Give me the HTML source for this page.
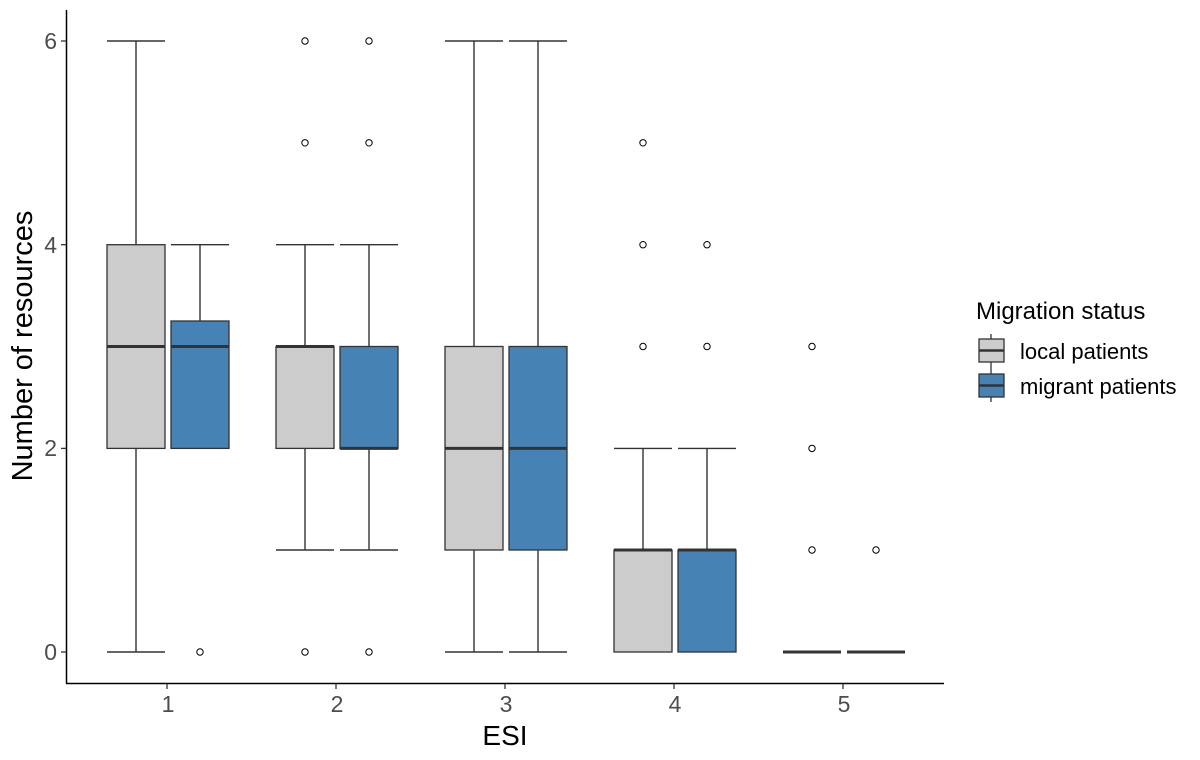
<!DOCTYPE html>
<html><head><meta charset="utf-8"><style>body{margin:0;background:#fff}svg{display:block}</style></head>
<body>
<svg width="1200" height="760" xmlns="http://www.w3.org/2000/svg" font-family="Liberation Sans, Arial, sans-serif">
<rect width="1200" height="760" fill="#fff"/>
<g stroke="#000" stroke-width="1.5" fill="none">
<line x1="66.5" y1="10" x2="66.5" y2="683.5"/>
<line x1="66" y1="683.5" x2="944" y2="683.5"/>
</g>
<g stroke="#333" stroke-width="1.3">
<line x1="61" y1="652" x2="66" y2="652"/><line x1="61" y1="448.4" x2="66" y2="448.4"/>
<line x1="61" y1="244.7" x2="66" y2="244.7"/><line x1="61" y1="41" x2="66" y2="41"/>
<line x1="167" y1="684" x2="167" y2="689"/><line x1="336" y1="684" x2="336" y2="689"/>
<line x1="505" y1="684" x2="505" y2="689"/><line x1="674" y1="684" x2="674" y2="689"/>
<line x1="843" y1="684" x2="843" y2="689"/>
</g>
<g fill="#4d4d4d" font-size="23" text-anchor="end">
<text x="57" y="660">0</text><text x="57" y="456">2</text><text x="57" y="253">4</text><text x="57" y="49">6</text>
</g>
<g fill="#4d4d4d" font-size="23" text-anchor="middle">
<text x="168" y="712">1</text><text x="337" y="712">2</text><text x="506" y="712">3</text><text x="675" y="712">4</text><text x="844" y="712">5</text>
</g>
<text x="505" y="745" font-size="28" text-anchor="middle" fill="#000">ESI</text>
<text transform="translate(32,346) rotate(-90)" font-size="29" text-anchor="middle" fill="#000">Number of resources</text>
<g stroke="#333" stroke-width="1.4">
<line x1="136" y1="41" x2="136" y2="652"/><line x1="107" y1="41" x2="165" y2="41"/><line x1="107" y1="652" x2="165" y2="652"/>
<line x1="200" y1="244.7" x2="200" y2="448.4"/><line x1="171" y1="244.7" x2="229" y2="244.7"/>
<line x1="305" y1="244.7" x2="305" y2="550"/><line x1="276" y1="244.7" x2="334" y2="244.7"/><line x1="276" y1="550" x2="334" y2="550"/>
<line x1="369" y1="244.7" x2="369" y2="550"/><line x1="340" y1="244.7" x2="398" y2="244.7"/><line x1="340" y1="550" x2="398" y2="550"/>
<line x1="474" y1="41" x2="474" y2="652"/><line x1="445" y1="41" x2="503" y2="41"/><line x1="445" y1="652" x2="503" y2="652"/>
<line x1="538" y1="41" x2="538" y2="652"/><line x1="509" y1="41" x2="567" y2="41"/><line x1="509" y1="652" x2="567" y2="652"/>
<line x1="643" y1="448.4" x2="643" y2="550"/><line x1="614" y1="448.4" x2="672" y2="448.4"/>
<line x1="707" y1="448.4" x2="707" y2="550"/><line x1="678" y1="448.4" x2="736" y2="448.4"/>
</g>
<g stroke="#333" stroke-width="1.3">
<rect x="107" y="244.7" width="58" height="203.7" fill="#cccccc"/>
<rect x="171" y="321" width="58" height="127.4" fill="#4682b4"/>
<rect x="276" y="346.5" width="58" height="101.9" fill="#cccccc"/>
<rect x="340" y="346.5" width="58" height="101.9" fill="#4682b4"/>
<rect x="445" y="346.5" width="58" height="203.5" fill="#cccccc"/>
<rect x="509" y="346.5" width="58" height="203.5" fill="#4682b4"/>
<rect x="614" y="550" width="58" height="102" fill="#cccccc"/>
<rect x="678" y="550" width="58" height="102" fill="#4682b4"/>
</g>
<g stroke="#333" stroke-width="3">
<line x1="107" y1="346.5" x2="165" y2="346.5"/><line x1="171" y1="346.5" x2="229" y2="346.5"/>
<line x1="276" y1="346.5" x2="334" y2="346.5"/><line x1="340" y1="448.4" x2="398" y2="448.4"/>
<line x1="445" y1="448.4" x2="503" y2="448.4"/><line x1="509" y1="448.4" x2="567" y2="448.4"/>
<line x1="614" y1="550" x2="672" y2="550"/><line x1="678" y1="550" x2="736" y2="550"/>
<line x1="783" y1="652" x2="841" y2="652"/><line x1="847" y1="652" x2="905" y2="652"/>
</g>
<g fill="#fff" stroke="#000" stroke-width="1">
<circle cx="200" cy="652" r="3.2"/>
<circle cx="305" cy="41" r="3.2"/><circle cx="305" cy="142.8" r="3.2"/><circle cx="305" cy="652" r="3.2"/>
<circle cx="369" cy="41" r="3.2"/><circle cx="369" cy="142.8" r="3.2"/><circle cx="369" cy="652" r="3.2"/>
<circle cx="643" cy="142.8" r="3.2"/><circle cx="643" cy="244.7" r="3.2"/><circle cx="643" cy="346.5" r="3.2"/>
<circle cx="707" cy="244.7" r="3.2"/><circle cx="707" cy="346.5" r="3.2"/>
<circle cx="812" cy="346.5" r="3.2"/><circle cx="812" cy="448.4" r="3.2"/><circle cx="812" cy="550" r="3.2"/>
<circle cx="876" cy="550" r="3.2"/>
</g>
<text x="976" y="319" font-size="24" fill="#000">Migration status</text>
<g stroke="#333" stroke-width="1.3">
<line x1="991" y1="334" x2="991" y2="402"/>
<rect x="979" y="339" width="25" height="23" fill="#cccccc"/>
<rect x="979" y="374" width="25" height="23" fill="#4682b4"/>
<line x1="979" y1="350.5" x2="1004" y2="350.5" stroke-width="2.5"/>
<line x1="979" y1="385.5" x2="1004" y2="385.5" stroke-width="2.5"/>
</g>
<text x="1020" y="359" font-size="22" fill="#000">local patients</text>
<text x="1020" y="394" font-size="22" fill="#000">migrant patients</text>
</svg>
</body></html>
